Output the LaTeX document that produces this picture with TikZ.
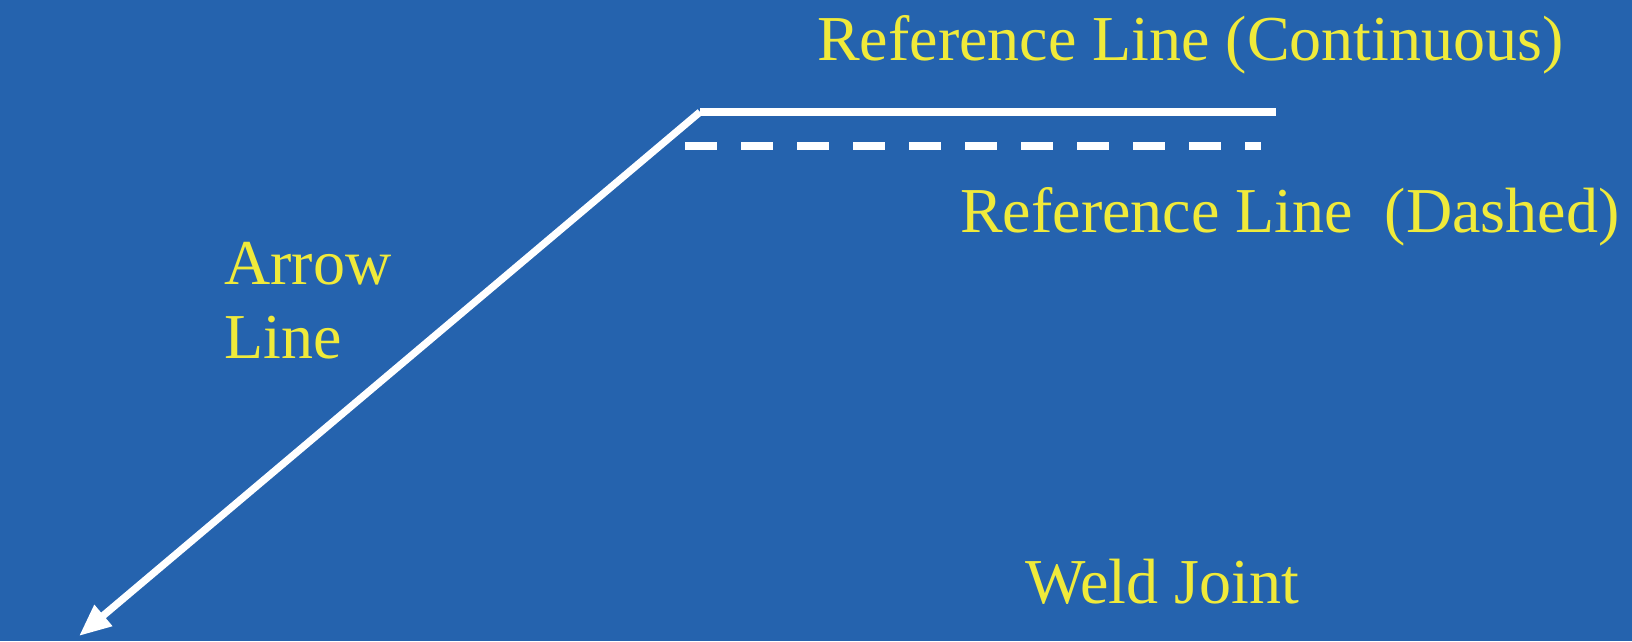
\documentclass[tikz,border=0pt]{standalone}
\usepackage{fontspec}
\setmainfont{Liberation Serif}
\usetikzlibrary{arrows.meta}
\definecolor{bgblue}{RGB}{37,99,174}
\definecolor{lblyellow}{RGB}{240,234,58}
\tikzset{
  lbl/.style={text=lblyellow, font=\fontsize{64}{74}\selectfont, inner sep=0pt, anchor=base west},
  refline/.style={white, line width=7.3pt},
  dashline/.style={white, line width=7.3pt, dash pattern=on 32pt off 24pt},
  arrowline/.style={white, line width=7.3pt, -{Triangle[length=32pt,width=26pt]}}
}
\begin{document}
\begin{tikzpicture}[x=1pt,y=-1pt]
\fill[bgblue] (0,0) rectangle (1632,641);
\useasboundingbox (0,0) rectangle (1632,641);
\coordinate (corner) at (700,112);
\coordinate (refend) at (1276,112);
\coordinate (dashstart) at (685,146);
\coordinate (dashend) at (1261,146);
\coordinate (tip) at (79,636);
\node[lbl] (cont) at (817,60) {Reference Line (Continuous)};
\node[lbl] (dash) at (960,232) {Reference Line\ \ (Dashed)};
\node[lbl] (arrow1) at (224,284) {Arrow};
\node[lbl] (arrow2) at (224,358) {Line};
\node[lbl] (weld) at (1025,603) {Weld Joint};
\draw[refline] (corner) -- (refend);
\draw[dashline] (dashstart) -- (dashend);
\draw[arrowline] (corner) -- (tip);
\end{tikzpicture}
\end{document}
